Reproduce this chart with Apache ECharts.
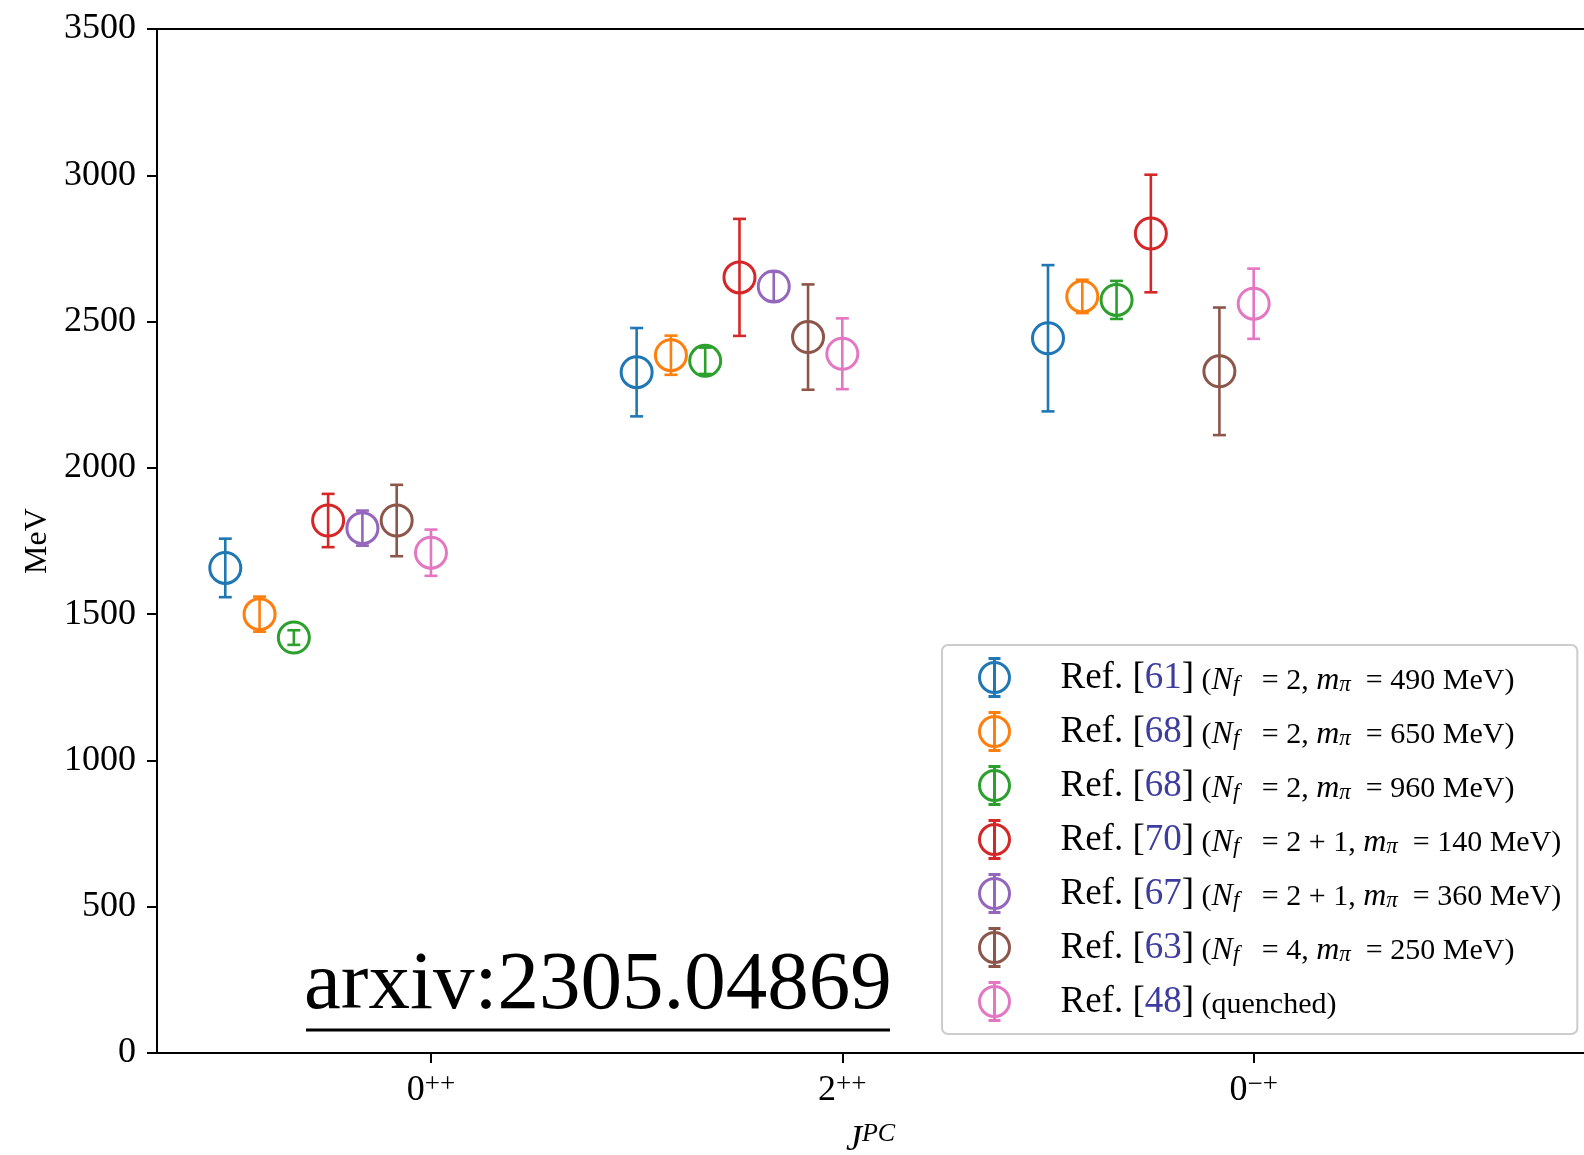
<!DOCTYPE html>
<html>
<head>
<meta charset="utf-8">
<script src="https://cdn.jsdelivr.net/npm/echarts@6/dist/echarts.min.js"></script>
<style>
  html, body { margin: 0; padding: 0; background: #fff; }
  #chart { width: 1584px; height: 1155px; }
</style>
</head>
<body>
<div id="chart"></div>
<script>
// ---------- data ----------
const categories = ['0++', '2++', '0-+'];
const tickSup = ['++', '++', '\u2212+'];
const tickBase = ['0', '2', '0'];

const refNums = ['61', '68', '68', '70', '67', '63', '48'];
const nfVals  = ['2', '2', '2', '2 + 1', '2 + 1', '4', null];
const mpiVals = ['490', '650', '960', '140', '360', '250', null];

// mass values (MeV) per category [0++, 2++, 0-+] and symmetric errors
const ref61Val = [1658, 2327, 2443]; const ref61Err = [100, 151, 250];
const ref68aVal = [1500, 2385, 2586]; const ref68aErr = [60, 67, 57];
const ref68bVal = [1420, 2366, 2574]; const ref68bErr = [25, 45, 65];
const ref70Val = [1820, 2651, 2801]; const ref70Err = [91, 200, 201];
const ref67Val = [1794, 2620, null]; const ref67Err = [60, 50, null];
const ref63Val = [1820, 2447, 2330]; const ref63Err = [122, 180, 218];
const ref48Val = [1710, 2390, 2561]; const ref48Err = [79, 121, 120];

const allVals = [ref61Val, ref68aVal, ref68bVal, ref70Val, ref67Val, ref63Val, ref48Val];
const allErrs = [ref61Err, ref68aErr, ref68bErr, ref70Err, ref67Err, ref63Err, ref48Err];

const colors = ['#1f77b4', '#ff7f0e', '#2ca02c', '#d62728', '#9467bd', '#8c564b', '#e377c2'];

const yTicks = [0, 500, 1000, 1500, 2000, 2500, 3000, 3500];

// ---------- build ----------
const FONT = 'Liberation Serif';
function seriesName(i) {
  return 'Ref. [' + refNums[i] + ']' + (nfVals[i] ? ' (N_f = ' + nfVals[i] + ', m_pi = ' + mpiVals[i] + ' MeV)' : ' (quenched)');
}
const names = refNums.map((_, i) => seriesName(i));

const iconPath = 'path://M16,4 A15,15 0 1 1 16,34 A15,15 0 1 1 16,4 Z M16,0 L16,38 M10,0 L22,0 M10,38 L22,38';

const series = allVals.map((vals, si) => {
  const data = [];
  vals.forEach((v, ci) => {
    if (v == null) return;
    data.push([ci + (si - 6) / 12, v, allErrs[si][ci]]);
  });
  const col = colors[si];
  return {
    type: 'custom',
    name: names[si],
    data: data,
    encode: { x: 0, y: 1 },
    z: 2 + si,
    renderItem: function (params, api) {
      const x = api.value(0), y = api.value(1), e = api.value(2);
      const c = api.coord([x, y]);
      const t = api.coord([x, y + e]);
      const b = api.coord([x, y - e]);
      const ls = { stroke: col, lineWidth: 2.6, fill: null };
      return {
        type: 'group',
        children: [
          { type: 'line', shape: { x1: c[0], y1: t[1], x2: c[0], y2: b[1] }, style: ls },
          { type: 'line', shape: { x1: c[0] - 6.5, y1: t[1], x2: c[0] + 6.5, y2: t[1] }, style: ls },
          { type: 'line', shape: { x1: c[0] - 6.5, y1: b[1], x2: c[0] + 6.5, y2: b[1] }, style: ls },
          { type: 'circle', shape: { cx: c[0], cy: c[1], r: 15.5 }, style: { stroke: col, lineWidth: 3, fill: 'rgba(0,0,0,0)' } }
        ]
      };
    }
  };
});

const legendData = names.map((n, i) => ({
  name: n,
  icon: iconPath,
  itemStyle: { color: 'rgba(0,0,0,0)', borderColor: colors[i], borderWidth: 3 }
}));

const chart = echarts.init(document.getElementById('chart'), null, { renderer: 'canvas' });

const option = {
  animation: false,
  backgroundColor: '#fff',
  grid: { left: 157, top: 29, right: 0, bottom: 102, containLabel: false, outerBoundsMode: 'none' },
  xAxis: [{
    type: 'value',
    min: -0.666,
    max: 2.803,
    position: 'bottom',
    axisLine: { show: true, onZero: false, lineStyle: { color: '#000', width: 2 } },
    axisTick: { show: true, customValues: [0, 1, 2], length: 10, lineStyle: { color: '#000', width: 2 } },
    axisLabel: {
      show: true,
      customValues: [0, 1, 2],
      margin: 18,
      formatter: function (v) {
        const i = Math.round(v);
        return '{b|' + tickBase[i] + '}{s|' + tickSup[i] + '}';
      },
      rich: {
        b: { fontFamily: FONT, fontSize: 36, color: '#000', lineHeight: 40 },
        s: { fontFamily: FONT, fontSize: 27, color: '#000', verticalAlign: 'top', lineHeight: 22 }
      }
    },
    splitLine: { show: false },
    name: '{j|J}{s|PC}',
    nameLocation: 'middle',
    nameGap: 68,
    nameTextStyle: {
      rich: {
        j: { fontFamily: FONT, fontStyle: 'italic', fontSize: 36, color: '#000', lineHeight: 40 },
        s: { fontFamily: FONT, fontStyle: 'italic', fontSize: 26, color: '#000', verticalAlign: 'top', lineHeight: 24 }
      }
    }
  }, {
    type: 'value',
    min: -0.666,
    max: 2.803,
    position: 'top',
    axisLine: { show: true, onZero: false, lineStyle: { color: '#000', width: 2 } },
    axisTick: { show: false },
    axisLabel: { show: false },
    splitLine: { show: false }
  }],
  yAxis: {
    type: 'value',
    min: 0,
    max: 3500,
    interval: 500,
    axisLine: { show: true, onZero: false, lineStyle: { color: '#000', width: 2 } },
    axisTick: { show: true, length: 10, lineStyle: { color: '#000', width: 2 } },
    axisLabel: {
      margin: 21,
      fontFamily: FONT,
      fontSize: 36,
      color: '#000',
      padding: [5, 0, 0, 0],
      formatter: function (v) { return yTicks.indexOf(v) >= 0 ? String(v) : ''; }
    },
    splitLine: { show: false },
    name: 'MeV',
    nameLocation: 'middle',
    nameRotate: 90,
    nameGap: 101,
    nameTextStyle: { fontFamily: FONT, fontSize: 32, color: '#000' }
  },
  legend: {
    orient: 'vertical',
    left: 942,
    top: 645,
    padding: [12, 16, 12, 36],
    itemWidth: 30,
    itemHeight: 38,
    itemGap: 13,
    backgroundColor: 'rgba(255,255,255,0.8)',
    borderColor: '#cccccc',
    borderWidth: 2,
    borderRadius: 6,
    selectedMode: false,
    data: legendData,
    formatter: function (name) {
      const i = names.indexOf(name);
      let s = '{g| }{r|Ref. [}{n|' + refNums[i] + '}{r|]}';
      if (nfVals[i]) {
        s += '{p| (}{m|N}{sub|f}{p|   = ' + nfVals[i] + ', }{m|m}{sub|\u03c0}{p|  = ' + mpiVals[i] + ' MeV)}';
      } else {
        s += '{p| (quenched)}';
      }
      return s;
    },
    textStyle: {
      fontFamily: FONT,
      color: '#000',
      lineHeight: 38,
      rich: {
        g: { width: 46, fontSize: 10, lineHeight: 38 },
        r: { fontFamily: FONT, fontSize: 37, color: '#000', lineHeight: 38, verticalAlign: 'bottom' },
        n: { fontFamily: FONT, fontSize: 37, color: '#3d3d9e', lineHeight: 38, verticalAlign: 'bottom' },
        p: { fontFamily: FONT, fontSize: 30, color: '#000', lineHeight: 34, verticalAlign: 'bottom' },
        m: { fontFamily: FONT, fontStyle: 'italic', fontSize: 32, color: '#000', lineHeight: 35, verticalAlign: 'bottom' },
        sub: { fontFamily: FONT, fontStyle: 'italic', fontSize: 23, color: '#000', lineHeight: 20, verticalAlign: 'bottom' }
      }
    }
  },
  graphic: [
    {
      type: 'text',
      left: 304,
      top: 945,
      z: 50,
      style: { text: 'arxiv:2305.04869', fontFamily: FONT, fontSize: 83, fill: '#000' }
    },
    {
      type: 'line',
      z: 50,
      shape: { x1: 306, y1: 1030, x2: 890, y2: 1030 },
      style: { stroke: '#000', lineWidth: 3 }
    }
  ],
  series: series
};

chart.setOption(option);
</script>
</body>
</html>
